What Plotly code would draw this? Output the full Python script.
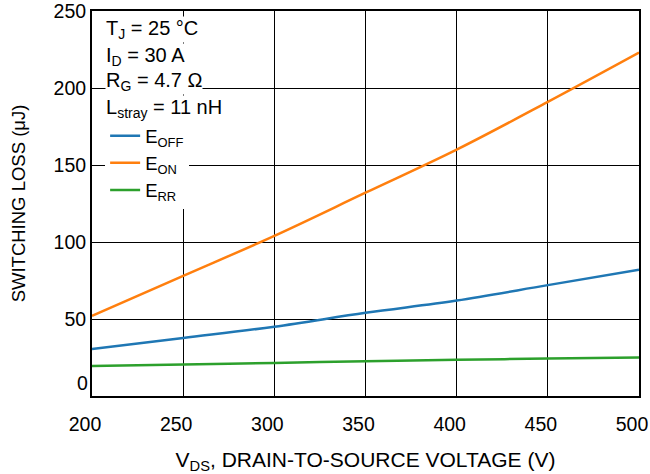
import plotly.graph_objects as go

vds = [200, 250, 300, 350, 400, 450, 500]
e_off = [30.5, 37.7, 45.0, 54.0, 62.0, 72.0, 82.0]
e_on = [52.0, 78.0, 104.0, 132.0, 160.0, 191.0, 223.0]
e_rr = [19.5, 20.5, 21.5, 22.5, 23.5, 24.3, 25.0]

names = ["E<sub>OFF</sub>", "E<sub>ON</sub>", "E<sub>RR</sub>"]
colors = ["#1f77b4", "#ff7f0e", "#2ca02c"]
conds = ["T<sub>J</sub> = 25 °C", "I<sub>D</sub> = 30 A", "R<sub>G</sub> = 4.7 Ω", "L<sub>stray</sub> = 11 nH"]
xticks = [200, 250, 300, 350, 400, 450, 500]
yticks = [50, 100, 150, 200, 250]

FONT = "Liberation Sans, Arial, sans-serif"

fig = go.Figure()
for ys, nm, c in zip([e_off, e_on, e_rr], names, colors):
    fig.add_trace(go.Scatter(x=vds, y=ys, mode="lines", name=nm,
                             line=dict(color=c, width=2.5, shape="spline")))

fig.update_layout(
    width=650, height=474,
    margin=dict(l=92, r=11, t=11, b=78, autoexpand=False),
    paper_bgcolor="white", plot_bgcolor="white",
    font=dict(family=FONT, size=19.5, color="black"),
    showlegend=True,
    legend=dict(x=0.024, y=0.724, xanchor="left", yanchor="top",
                bgcolor="white", font=dict(size=18.5), tracegroupgap=0,
                itemwidth=30),
    xaxis=dict(range=[200, 500], tickvals=xticks, showgrid=True,
               gridcolor="black", gridwidth=1, showline=True, linecolor="black",
               linewidth=2, mirror=True, ticks="", zeroline=False, automargin=False,
               ticklabelstandoff=10, ticklabelshift=-7, ticklabeloverflow="allow",
               title=dict(text="V<sub>DS</sub>, DRAIN-TO-SOURCE VOLTAGE (V)",
                          font=dict(size=21), standoff=18)),
    yaxis=dict(range=[0, 250], tickvals=yticks, showgrid=True,
               gridcolor="black", gridwidth=1, showline=True, linecolor="black",
               linewidth=2, mirror=True, ticks="", zeroline=False, automargin=False,
               ticklabelstandoff=0, ticklabeloverflow="allow",
               title=dict(text="SWITCHING LOSS (μJ)", font=dict(size=18.5), standoff=23)),
)

fig.add_annotation(x=0, y=0, xref="paper", yref="y", text="0", showarrow=False,
                   xanchor="right", yanchor="middle", xshift=-2, yshift=13,
                   font=dict(size=19.5))

ys_px = [29, 56, 82, 109]
for t, yp in zip(conds, ys_px):
    fig.add_annotation(x=(105 - 92) / 547, y=1 - (yp - 11) / 385, xref="paper", yref="paper",
                       text=t, showarrow=False, xanchor="left", yanchor="middle",
                       bgcolor="white", font=dict(size=20), borderpad=0)

fig.write_html("out.html")
